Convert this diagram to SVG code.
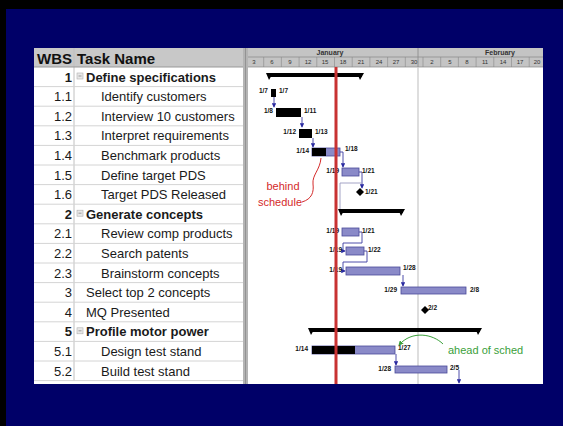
<svg xmlns="http://www.w3.org/2000/svg" width="563" height="426" viewBox="0 0 563 426">
<defs>
<style>
.t{font-family:"Liberation Sans",Arial,sans-serif;font-size:13px;fill:#1a1a1a}
.b{font-weight:bold}
.w{text-anchor:end}
.hd{font-family:"Liberation Sans",Arial,sans-serif;font-size:15px;font-weight:bold;fill:#111}
.dl{font-family:"Liberation Sans",Arial,sans-serif;font-size:6.5px;font-weight:bold;fill:#111}
.tk{font-family:"Liberation Sans",Arial,sans-serif;font-size:6px;fill:#333;text-anchor:middle}
.mo{font-family:"Liberation Sans",Arial,sans-serif;font-size:7px;font-weight:bold;fill:#333;text-anchor:middle}
.rl{stroke:#d4d4d4;stroke-width:1}
.bar{fill:#8a8ac8;stroke:#4a4a9a;stroke-width:0.8}
.done{fill:#000}
.cn{fill:none;stroke:#3a3aa0;stroke-width:0.9}
.cg{fill:none;stroke:#9a9ac0;stroke-width:0.9}
</style>
<marker id="ah" viewBox="0 0 6 6" refX="5" refY="3" markerWidth="5" markerHeight="5" orient="auto"><path d="M0,0 L6,3 L0,6 Z" fill="#2a2aa0"/></marker>
<marker id="ag" viewBox="0 0 6 6" refX="5" refY="3" markerWidth="5" markerHeight="5" orient="auto"><path d="M0,0 L6,3 L0,6 Z" fill="#3aa03a"/></marker>
<g id="minus"><rect x="0" y="0" width="6" height="6" fill="#e8e8e8" stroke="#b0b0b0" stroke-width="0.6"/><line x1="1.5" y1="3" x2="4.5" y2="3" stroke="#888" stroke-width="0.8"/></g>
</defs>
<rect width="563" height="426" fill="#000068"/>
<rect x="0" y="0" width="563" height="9" fill="#000"/>
<rect x="0" y="0" width="6" height="426" fill="#000"/>
<rect x="34" y="48" width="509" height="336" fill="#fff"/>
<g id="table">
<rect x="34" y="48" width="209" height="19" fill="#c8c8c8"/>
<line x1="74" y1="48" x2="74" y2="381" stroke="#c0c0c0"/>
<line x1="34" y1="67" x2="243" y2="67" stroke="#999"/>
<text class="hd" x="37" y="64">WBS</text>
<text class="hd" x="77" y="64">Task Name</text>
<g class="rl">
<line x1="34" y1="86.6" x2="243" y2="86.6"/><line x1="34" y1="106.2" x2="243" y2="106.2"/><line x1="34" y1="125.8" x2="243" y2="125.8"/><line x1="34" y1="145.4" x2="243" y2="145.4"/><line x1="34" y1="165" x2="243" y2="165"/><line x1="34" y1="184.6" x2="243" y2="184.6"/><line x1="34" y1="204.2" x2="243" y2="204.2"/><line x1="34" y1="223.8" x2="243" y2="223.8"/><line x1="34" y1="243.4" x2="243" y2="243.4"/><line x1="34" y1="263" x2="243" y2="263"/><line x1="34" y1="282.6" x2="243" y2="282.6"/><line x1="34" y1="302.2" x2="243" y2="302.2"/><line x1="34" y1="321.8" x2="243" y2="321.8"/><line x1="34" y1="341.4" x2="243" y2="341.4"/><line x1="34" y1="361" x2="243" y2="361"/><line x1="34" y1="380.6" x2="243" y2="380.6"/>
</g>
<rect x="243" y="48" width="5" height="336" fill="#b4b4b4"/>
<line x1="245.5" y1="48" x2="245.5" y2="384" stroke="#8a8a8a" stroke-width="0.8"/>
</g>
<g id="row-1"><text class="t b w" x="72" y="81.5">1</text><use href="#minus" x="77" y="73"/><text class="t b" x="86" y="81.5">Define specifications</text></g>
<g id="row-1.1"><text class="t w" x="72" y="101.1">1.1</text><text class="t" x="101" y="101.1">Identify customers</text></g>
<g id="row-1.2"><text class="t w" x="72" y="120.7">1.2</text><text class="t" x="101" y="120.7">Interview 10 customers</text></g>
<g id="row-1.3"><text class="t w" x="72" y="140.3">1.3</text><text class="t" x="101" y="140.3">Interpret requirements</text></g>
<g id="row-1.4"><text class="t w" x="72" y="159.9">1.4</text><text class="t" x="101" y="159.9">Benchmark products</text></g>
<g id="row-1.5"><text class="t w" x="72" y="179.5">1.5</text><text class="t" x="101" y="179.5">Define target PDS</text></g>
<g id="row-1.6"><text class="t w" x="72" y="199.1">1.6</text><text class="t" x="101" y="199.1">Target PDS Released</text></g>
<g id="row-2"><text class="t b w" x="72" y="218.7">2</text><use href="#minus" x="77" y="210.2"/><text class="t b" x="86" y="218.7">Generate concepts</text></g>
<g id="row-2.1"><text class="t w" x="72" y="238.3">2.1</text><text class="t" x="101" y="238.3">Review comp products</text></g>
<g id="row-2.2"><text class="t w" x="72" y="257.9">2.2</text><text class="t" x="101" y="257.9">Search patents</text></g>
<g id="row-2.3"><text class="t w" x="72" y="277.5">2.3</text><text class="t" x="101" y="277.5">Brainstorm concepts</text></g>
<g id="row-3"><text class="t w" x="72" y="297.1">3</text><text class="t" x="86" y="297.1">Select top 2 concepts</text></g>
<g id="row-4"><text class="t w" x="72" y="316.7">4</text><text class="t" x="86" y="316.7">MQ Presented</text></g>
<g id="row-5"><text class="t b w" x="72" y="336.3">5</text><use href="#minus" x="77" y="327.8"/><text class="t b" x="86" y="336.3">Profile motor power</text></g>
<g id="row-5.1"><text class="t w" x="72" y="355.9">5.1</text><text class="t" x="101" y="355.9">Design test stand</text></g>
<g id="row-5.2"><text class="t w" x="72" y="375.5">5.2</text><text class="t" x="101" y="375.5">Build test stand</text></g>
<g id="timescale">
<rect x="248" y="48" width="295" height="19" fill="#c4c4c4"/>
<line x1="248" y1="57" x2="543" y2="57" stroke="#888" stroke-width="0.7"/>
<line x1="248" y1="67" x2="543" y2="67" stroke="#888" stroke-width="0.7"/>
<line x1="418" y1="48" x2="418" y2="67" stroke="#888" stroke-width="0.8"/>
<text class="mo" x="330" y="55">January</text>
<text class="mo" x="500" y="55">February</text>
<g stroke="#888" stroke-width="0.6">
<line x1="263.7" y1="57" x2="263.7" y2="67"/><line x1="281.4" y1="57" x2="281.4" y2="67"/><line x1="299.1" y1="57" x2="299.1" y2="67"/><line x1="316.8" y1="57" x2="316.8" y2="67"/><line x1="334.5" y1="57" x2="334.5" y2="67"/><line x1="352.2" y1="57" x2="352.2" y2="67"/><line x1="369.9" y1="57" x2="369.9" y2="67"/><line x1="387.6" y1="57" x2="387.6" y2="67"/><line x1="405.3" y1="57" x2="405.3" y2="67"/><line x1="423" y1="57" x2="423" y2="67"/><line x1="440.7" y1="57" x2="440.7" y2="67"/><line x1="458.4" y1="57" x2="458.4" y2="67"/><line x1="476.1" y1="57" x2="476.1" y2="67"/><line x1="493.8" y1="57" x2="493.8" y2="67"/><line x1="511.5" y1="57" x2="511.5" y2="67"/><line x1="529.2" y1="57" x2="529.2" y2="67"/>
</g>
<text class="tk" x="254" y="64">3</text><text class="tk" x="272" y="64">6</text><text class="tk" x="290" y="64">9</text><text class="tk" x="308" y="64">12</text><text class="tk" x="325" y="64">15</text><text class="tk" x="343" y="64">18</text><text class="tk" x="361" y="64">21</text><text class="tk" x="379" y="64">24</text><text class="tk" x="396" y="64">27</text><text class="tk" x="414" y="64">30</text><text class="tk" x="432" y="64">2</text><text class="tk" x="450" y="64">5</text><text class="tk" x="467" y="64">8</text><text class="tk" x="485" y="64">11</text><text class="tk" x="503" y="64">14</text><text class="tk" x="520" y="64">17</text><text class="tk" x="537" y="64">20</text>
</g>
<line x1="418" y1="67" x2="418" y2="384" stroke="#c8c8c8" stroke-width="1.2"/>
<g id="connectors">
<path class="cn" d="M274,97 V107" marker-end="url(#ah)"/>
<path class="cn" d="M302,117 V127" marker-end="url(#ah)"/>
<path class="cn" d="M313,138 V147" marker-end="url(#ah)"/>
<path class="cn" d="M340,152 H343 V167" marker-end="url(#ah)"/>
<path class="cn" d="M359,172 H362 V188" marker-end="url(#ah)"/>
<path class="cg" d="M340,183 H362"/>
<path class="cg" d="M340,183 V209"/>
<path class="cn" d="M359,232 H362 V243 H343 V251 H345" marker-end="url(#ah)"/>
<path class="cn" d="M364,251 H367 V262 H343 V271 H345" marker-end="url(#ah)"/>
<path class="cn" d="M403,275 V286" marker-end="url(#ah)"/>
<path class="cn" d="M396,354 V365" marker-end="url(#ah)"/>
<path class="cn" d="M459,370 V383" marker-end="url(#ah)"/>
</g>
<g id="bars">
<g id="sum-1"><rect x="268" y="73" width="94" height="4" fill="#000"/><path d="M266,73 L273,73 L269,80 Z M357,73 L364,73 L360,80 Z" fill="#000"/></g>
<g id="bar-1.1"><rect x="271" y="89" width="5" height="8" class="done"/><text class="dl w" x="268" y="93">1/7</text><text class="dl" x="279" y="93">1/7</text></g>
<g id="bar-1.2"><rect x="276" y="108" width="25" height="9" class="done"/><text class="dl w" x="273" y="113">1/8</text><text class="dl" x="304" y="113">1/11</text></g>
<g id="bar-1.3"><rect x="299" y="129" width="13" height="9" class="done"/><text class="dl w" x="296" y="134">1/12</text><text class="dl" x="315" y="134">1/13</text></g>
<g id="bar-1.4"><rect x="312" y="148" width="28" height="8" class="bar"/><rect x="312" y="148" width="14" height="8" class="done"/><text class="dl w" x="309" y="153">1/14</text><text class="dl" x="345" y="151">1/18</text></g>
<g id="bar-1.5"><rect x="342" y="168" width="17" height="8" class="bar"/><text class="dl w" x="339" y="173">1/19</text><text class="dl" x="362" y="173">1/21</text></g>
<g id="ms-1.6"><path d="M360,188 L364,192 L360,196 L356,192 Z" fill="#000"/><text class="dl" x="365" y="194">1/21</text></g>
<g id="sum-2"><rect x="340" y="209" width="63" height="4" fill="#000"/><path d="M338,209 L345,209 L341,216 Z M398,209 L405,209 L401,216 Z" fill="#000"/></g>
<g id="bar-2.1"><rect x="342" y="228" width="17" height="8" class="bar"/><text class="dl w" x="339" y="233">1/19</text><text class="dl" x="362" y="233">1/21</text></g>
<g id="bar-2.2"><rect x="346" y="247" width="18" height="8" class="bar"/><text class="dl w" x="342" y="252">1/19</text><text class="dl" x="368" y="252">1/22</text></g>
<g id="bar-2.3"><rect x="346" y="267" width="54" height="8" class="bar"/><text class="dl w" x="342" y="272">1/19</text><text class="dl" x="403" y="270">1/28</text></g>
<g id="bar-3"><rect x="401" y="287" width="65" height="7" class="bar"/><text class="dl w" x="397" y="292">1/29</text><text class="dl" x="470" y="292">2/8</text></g>
<g id="ms-4"><path d="M425,306 L429,310 L425,314 L421,310 Z" fill="#000"/><text class="dl" x="428" y="310">2/2</text></g>
<g id="sum-5"><rect x="310" y="328" width="170" height="4" fill="#000"/><path d="M308,328 L315,328 L311,335 Z M475,328 L482,328 L478,335 Z" fill="#000"/></g>
<g id="bar-5.1"><rect x="312" y="346" width="83" height="8" class="bar"/><rect x="312" y="346" width="43" height="8" class="done"/><text class="dl w" x="308" y="351">1/14</text><text class="dl" x="398" y="350">1/27</text></g>
<g id="bar-5.2"><rect x="395" y="366" width="52" height="7" class="bar"/><text class="dl w" x="391" y="371">1/28</text><text class="dl" x="450" y="370">2/5</text></g>
</g>
<line id="today" x1="336" y1="67" x2="336" y2="384" stroke="#c83232" stroke-width="3"/>
<g id="note-behind">
<text x="283" y="190" font-family="Liberation Sans,Arial,sans-serif" font-size="11" fill="#d42a2a" text-anchor="middle">behind</text>
<text x="280" y="206" font-family="Liberation Sans,Arial,sans-serif" font-size="11" fill="#d42a2a" text-anchor="middle">schedule</text>
<path d="M302,202 C312,199 314,192 313,184 C312,175 320,170 321,158" fill="none" stroke="#d42a2a" stroke-width="1"/>
</g>
<g id="note-ahead">
<text x="448" y="354" font-family="Liberation Sans,Arial,sans-serif" font-size="11" fill="#3aa03a">ahead of sched</text>
<path d="M443,344 C433,334 412,330 399,345" fill="none" stroke="#3aa03a" stroke-width="1" marker-end="url(#ag)"/>
</g>
</svg>
